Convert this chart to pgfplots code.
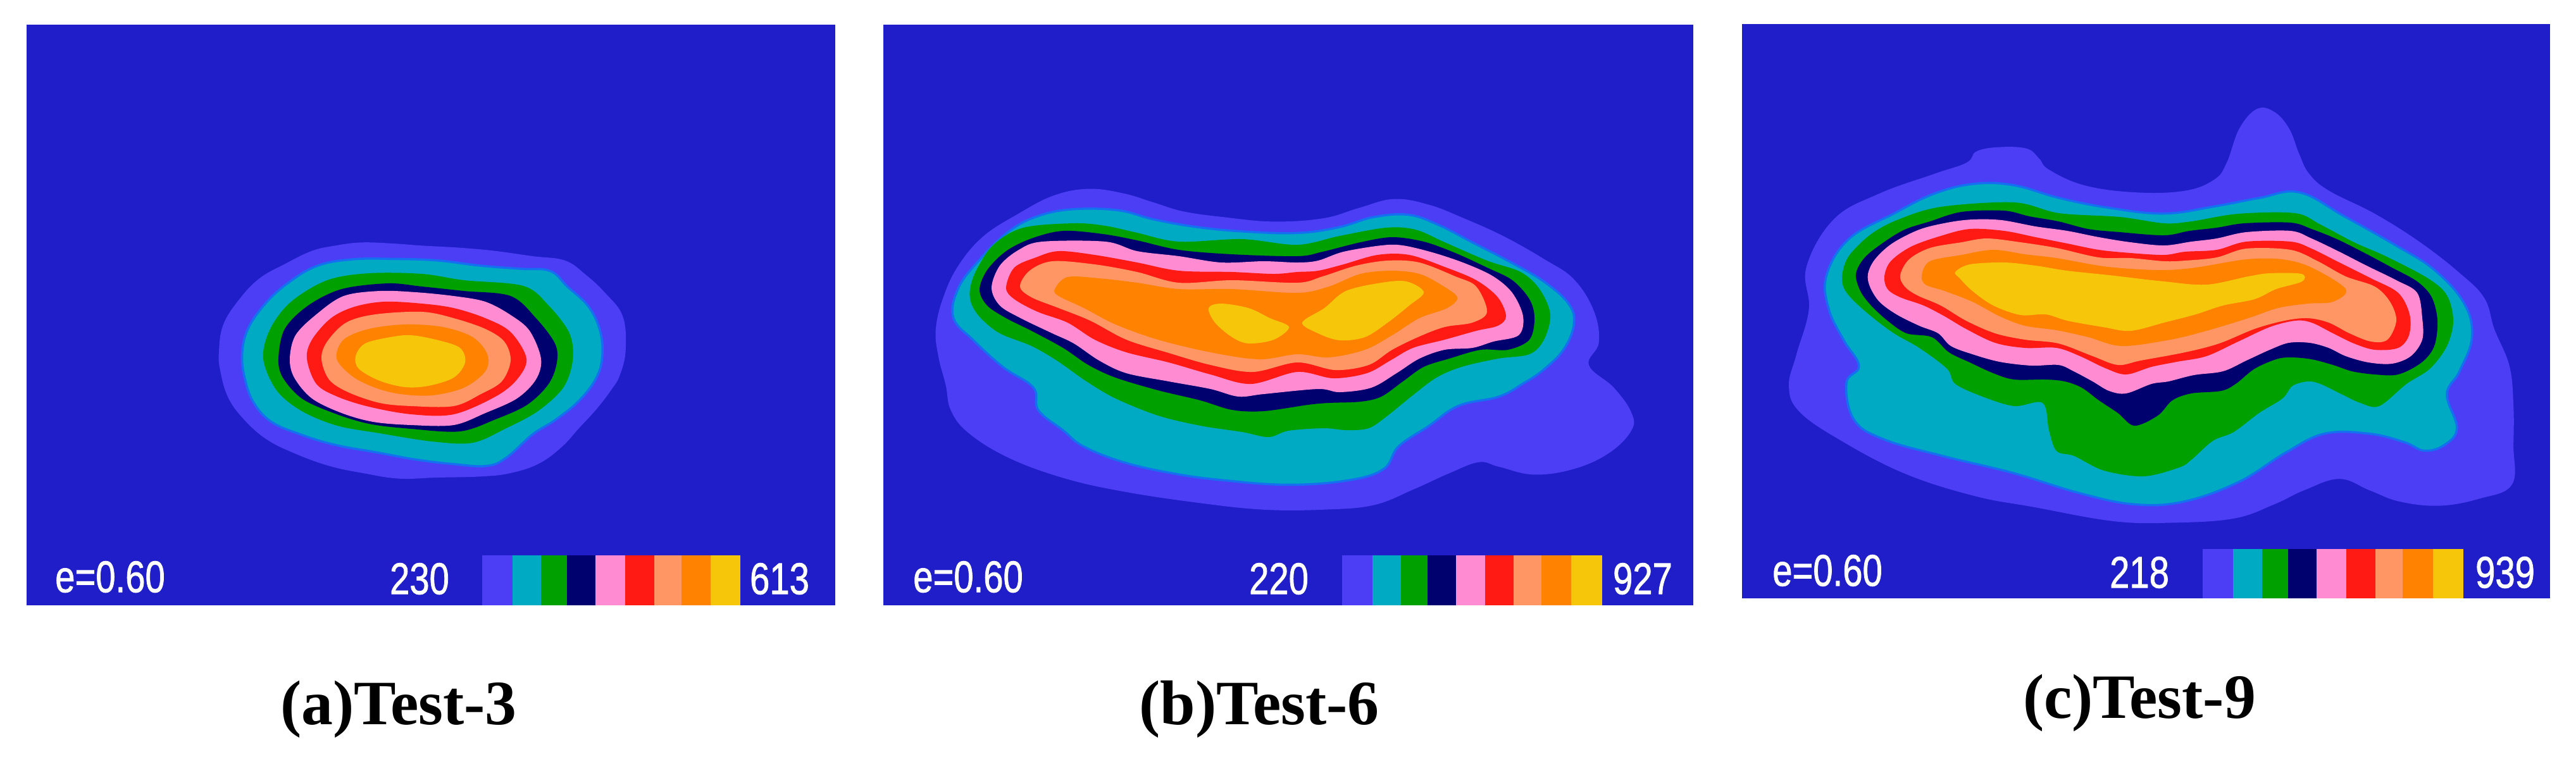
\documentclass[border=0pt]{standalone}
\usepackage{fontspec}
\setmainfont{Liberation Sans}
\newfontfamily\capfont{Liberation Serif}
\newfontfamily\labfont{Liberation Sans}[FakeBold=1.3]
\usepackage{pgfplots}
\pgfplotsset{compat=1.18}
\definecolor{Bg}{HTML}{201EC8}
\definecolor{L1}{HTML}{4B3EF5}
\definecolor{L2}{HTML}{00AAC3}
\definecolor{L3}{HTML}{00A000}
\definecolor{L4}{HTML}{00006E}
\definecolor{L5}{HTML}{FF8CD2}
\definecolor{L6}{HTML}{FF1A14}
\definecolor{L7}{HTML}{FF9664}
\definecolor{L8}{HTML}{FF8200}
\definecolor{L9}{HTML}{F5C60A}
\definecolor{Rim}{HTML}{1470F0}
\pgfplotsset{
  sheet/.style={
    scale only axis,width=20.355cm,height=5.995cm,
    hide axis,y dir=reverse,clip=false,
  },
  lv1/.style={fill=L1,draw=none,no marks,smooth cycle,tension=0.65},
  lv2/.style={fill=L2,draw=Rim,line width=0.5pt,no marks,smooth cycle,tension=0.65},
  lv3/.style={fill=L3,draw=none,no marks,smooth cycle,tension=0.55},
  lv4/.style={fill=L4,draw=none,no marks,smooth cycle,tension=0.55},
  lv5/.style={fill=L5,draw=none,no marks,smooth cycle,tension=0.55},
  lv6/.style={fill=L6,draw=none,no marks,smooth cycle,tension=0.55},
  lv7/.style={fill=L7,draw=none,no marks,smooth cycle,tension=0.55},
  lv8/.style={fill=L8,draw=none,no marks,smooth cycle,tension=0.55},
  lv9/.style={fill=L9,draw=none,no marks,smooth cycle,tension=0.55},
  box/.style={fill=#1,draw=none,no marks},
}
\tikzset{
  scalelab/.style={text=white,xscale=0.8,inner sep=0pt,font=\labfont\fontsize{10}{12}\selectfont},
  captext/.style={anchor=base,inner sep=0pt,font=\capfont\bfseries\fontsize{14.2}{16}\selectfont},
}
\begin{document}
\begin{tikzpicture}
% page, in pixels of the 4071x1199 figure
\begin{axis}[sheet,xmin=0,xmax=4071,ymin=0,ymax=1199]
\addplot[box=white] coordinates {(0,0) (4071,0) (4071,1199) (0,1199)} -- cycle;
\addplot[box=Bg] coordinates {(42,39) (1320,39) (1320,957) (42,957)} -- cycle;
\addplot[box=Bg] coordinates {(1396,39) (2676,39) (2676,957) (1396,957)} -- cycle;
\addplot[box=Bg] coordinates {(2753,38) (4030,38) (4030,946) (2753,946)} -- cycle;
% colour scale (a)
\addplot[box=L1] coordinates {(762,878) (810,878) (810,957) (762,957)} -- cycle;
\addplot[box=L2] coordinates {(810,878) (855,878) (855,957) (810,957)} -- cycle;
\addplot[box=L3] coordinates {(855,878) (896,878) (896,957) (855,957)} -- cycle;
\addplot[box=L4] coordinates {(896,878) (941,878) (941,957) (896,957)} -- cycle;
\addplot[box=L5] coordinates {(941,878) (988,878) (988,957) (941,957)} -- cycle;
\addplot[box=L6] coordinates {(988,878) (1034,878) (1034,957) (988,957)} -- cycle;
\addplot[box=L7] coordinates {(1034,878) (1077,878) (1077,957) (1034,957)} -- cycle;
\addplot[box=L8] coordinates {(1077,878) (1123,878) (1123,957) (1077,957)} -- cycle;
\addplot[box=L9] coordinates {(1123,878) (1170,878) (1170,957) (1123,957)} -- cycle;
% colour scale (b)
\addplot[box=L1] coordinates {(2121,878) (2169,878) (2169,957) (2121,957)} -- cycle;
\addplot[box=L2] coordinates {(2169,878) (2214,878) (2214,957) (2169,957)} -- cycle;
\addplot[box=L3] coordinates {(2214,878) (2256,878) (2256,957) (2214,957)} -- cycle;
\addplot[box=L4] coordinates {(2256,878) (2301,878) (2301,957) (2256,957)} -- cycle;
\addplot[box=L5] coordinates {(2301,878) (2347,878) (2347,957) (2301,957)} -- cycle;
\addplot[box=L6] coordinates {(2347,878) (2392,878) (2392,957) (2347,957)} -- cycle;
\addplot[box=L7] coordinates {(2392,878) (2436,878) (2436,957) (2392,957)} -- cycle;
\addplot[box=L8] coordinates {(2436,878) (2483,878) (2483,957) (2436,957)} -- cycle;
\addplot[box=L9] coordinates {(2483,878) (2532,878) (2532,957) (2483,957)} -- cycle;
% colour scale (c)
\addplot[box=L1] coordinates {(3481,868) (3529,868) (3529,946) (3481,946)} -- cycle;
\addplot[box=L2] coordinates {(3529,868) (3575,868) (3575,946) (3529,946)} -- cycle;
\addplot[box=L3] coordinates {(3575,868) (3616,868) (3616,946) (3575,946)} -- cycle;
\addplot[box=L4] coordinates {(3616,868) (3661,868) (3661,946) (3616,946)} -- cycle;
\addplot[box=L5] coordinates {(3661,868) (3708,868) (3708,946) (3661,946)} -- cycle;
\addplot[box=L6] coordinates {(3708,868) (3754,868) (3754,946) (3708,946)} -- cycle;
\addplot[box=L7] coordinates {(3754,868) (3797,868) (3797,946) (3754,946)} -- cycle;
\addplot[box=L8] coordinates {(3797,868) (3845,868) (3845,946) (3797,946)} -- cycle;
\addplot[box=L9] coordinates {(3845,868) (3893,868) (3893,946) (3845,946)} -- cycle;
\node[scalelab] at (axis cs:174,912) {e=0.60};
\node[scalelab] at (axis cs:663,915) {230};
\node[scalelab] at (axis cs:1232,915) {613};
\node[scalelab] at (axis cs:1530,912) {e=0.60};
\node[scalelab] at (axis cs:2021,915) {220};
\node[scalelab] at (axis cs:2596,915) {927};
\node[scalelab] at (axis cs:2888,902) {e=0.60};
\node[scalelab] at (axis cs:3381,905) {218};
\node[scalelab] at (axis cs:3959,905) {939};
\node[captext] at (axis cs:630,1145) {(a)Test-3};
\node[captext] at (axis cs:1990,1145) {(b)Test-6};
\node[captext] at (axis cs:3381,1135) {(c)Test-9};
\end{axis}
% outer bands, read from crops: (a) Test-3
\begin{axis}[sheet,xmin=-653.33,xmax=8212.6,ymin=-1020,ymax=2577]
\addplot[lv1] coordinates {(590,130) (700,135) (800,145) (930,155) (1050,170) (1180,195) (1290,215) (1360,280) (1430,370) (1490,480) (1500,640) (1480,760) (1450,830) (1400,920) (1340,1010) (1280,1100) (1200,1180) (1100,1225) (1000,1240) (850,1245) (720,1250) (600,1225) (480,1190) (360,1130) (260,1060) (180,960) (130,860) (105,740) (100,650) (115,520) (170,400) (240,300) (330,230) (420,170) (500,145)};
\addplot[lv2] coordinates {(560,210) (700,208) (850,215) (1000,240) (1140,255) (1240,265) (1300,340) (1370,430) (1410,540) (1420,660) (1400,770) (1340,880) (1260,970) (1180,1040) (1090,1150) (1020,1190) (900,1180) (780,1160) (640,1125) (500,1090) (380,1040) (280,980) (220,890) (190,780) (180,660) (200,540) (260,420) (340,320) (440,240)};
\end{axis}
% (b) Test-6
\begin{axis}[sheet,xmin=-1745,xmax=3402.8,ymin=-756,ymax=2601.2]
\addplot[lv1] coordinates {(430,80) (500,100) (560,140) (620,180) (700,205) (800,225) (900,210) (970,165) (1040,125) (1110,150) (1180,210) (1260,290) (1340,390) (1400,480) (1440,620) (1450,760) (1430,860) (1480,960) (1515,1070) (1515,1150) (1470,1250) (1400,1320) (1320,1345) (1250,1310) (1210,1290) (1150,1340) (1080,1410) (1000,1480) (900,1500) (780,1500) (650,1470) (500,1420) (380,1360) (270,1270) (190,1160) (155,1060) (145,950) (130,820) (125,700) (140,560) (170,420) (220,290) (290,190) (360,110)};
\addplot[lv2] coordinates {(400,170) (490,175) (560,215) (650,250) (750,270) (850,275) (930,250) (1000,205) (1070,195) (1130,240) (1200,320) (1270,400) (1340,490) (1390,590) (1400,680) (1380,790) (1340,880) (1300,940) (1250,1000) (1170,1040) (1110,1130) (1050,1220) (1020,1320) (950,1370) (830,1390) (700,1370) (600,1340) (500,1290) (420,1220) (380,1150) (330,1060) (320,960) (260,870) (200,750) (160,650) (170,520) (210,400) (270,270) (330,200)};
\end{axis}
% (c) Test-9
\begin{axis}[sheet,xmin=-3464.8,xmax=1683.1,ymin=-336,ymax=2349.8]
\addplot[lv1] coordinates {(1045,50) (1080,60) (1110,120) (1130,210) (1150,280) (1190,340) (1280,420) (1370,520) (1450,630) (1500,720) (1520,830) (1550,960) (1558,1100) (1558,1240) (1555,1380) (1490,1430) (1410,1455) (1330,1440) (1270,1400) (1210,1360) (1140,1400) (1080,1450) (1000,1500) (880,1515) (760,1510) (600,1460) (480,1420) (340,1340) (210,1220) (130,1120) (110,1030) (125,920) (150,760) (145,610) (200,440) (290,350) (400,280) (465,240) (485,200) (530,185) (585,190) (610,225) (630,265) (700,320) (800,345) (900,340) (960,300) (985,240) (1010,120)};
\addplot[lv2] coordinates {(480,315) (560,320) (650,365) (750,400) (860,420) (960,395) (1050,365) (1130,345) (1220,430) (1320,530) (1400,620) (1460,740) (1475,860) (1450,980) (1425,1060) (1445,1180) (1420,1240) (1380,1260) (1340,1230) (1270,1200) (1180,1200) (1100,1270) (1010,1370) (900,1440) (800,1450) (690,1410) (560,1340) (420,1280) (300,1220) (240,1150) (225,1020) (250,960) (220,870) (190,760) (185,640) (230,510) (320,420) (400,350)};
\end{axis}
% inner bands, in pixels of the figure
\begin{axis}[sheet,xmin=0,xmax=4071,ymin=0,ymax=1199]
% (a)
\addplot[lv3] coordinates {(416,567) (427,520) (460,477) (517,443) (583,432) (667,433) (733,443) (827,452) (867,483) (900,527) (905,570) (890,613) (850,650) (800,677) (747,700) (683,698) (600,685) (533,673) (477,650) (437,617)};
\addplot[lv4] coordinates {(440,567) (450,520) (487,483) (540,457) (613,448) (667,453) (733,460) (807,468) (847,503) (877,543) (880,573) (867,607) (833,640) (783,663) (727,682) (650,678) (583,670) (527,653) (477,630) (447,597)};
\addplot[lv5] coordinates {(458,567) (467,530) (500,497) (543,468) (600,460) (657,462) (717,468) (767,477) (807,498) (837,523) (855,567) (847,600) (817,630) (767,653) (717,672) (650,672) (590,667) (540,653) (493,630) (465,597)};
\addplot[lv6] coordinates {(485,567) (493,537) (523,503) (560,485) (607,477) (667,480) (717,487) (767,503) (807,525) (832,567) (817,600) (783,627) (717,655) (650,655) (583,643) (533,627) (500,607)};
\addplot[lv7] coordinates {(508,567) (517,540) (547,510) (593,497) (667,493) (717,503) (767,520) (797,540) (807,570) (793,603) (760,623) (717,642) (650,642) (600,637) (550,620) (520,600)};
\addplot[lv8] coordinates {(532,567) (543,537) (583,520) (640,513) (700,517) (747,533) (770,560) (767,587) (733,613) (683,625) (633,623) (593,613) (557,595)};
\addplot[lv9] coordinates {(562,563) (577,543) (617,533) (650,530) (693,538) (727,550) (735,573) (717,597) (677,610) (640,612) (600,602) (567,583)};
% (b)
\addplot[lv3] coordinates {(1533,457) (1543,427) (1570,387) (1617,360) (1697,353) (1747,357) (1797,368) (1863,382) (1963,378) (2050,387) (2117,373) (2190,360) (2237,363) (2283,383) (2350,412) (2403,430) (2433,457) (2450,497) (2440,537) (2417,560) (2367,567) (2310,580) (2270,597) (2230,627) (2193,657) (2163,677) (2127,680) (2092,677) (2036,681) (2005,691) (1963,683) (1897,673) (1830,657) (1763,630) (1717,603) (1670,570) (1630,547) (1580,527) (1550,503) (1535,480)};
\addplot[lv4] coordinates {(1548,458) (1560,427) (1590,397) (1630,377) (1680,365) (1743,370) (1797,380) (1863,395) (1947,402) (2050,405) (2090,398) (2150,383) (2200,375) (2250,382) (2300,400) (2350,423) (2390,443) (2417,473) (2425,503) (2417,537) (2383,553) (2340,553) (2290,567) (2250,580) (2217,603) (2183,627) (2150,635) (2100,637) (2067,640) (1997,650) (1947,648) (1897,633) (1830,617) (1763,597) (1720,577) (1680,550) (1630,523) (1590,503) (1560,483)};
\addplot[lv5] coordinates {(1567,455) (1580,420) (1610,395) (1647,382) (1747,382) (1797,397) (1863,405) (1930,415) (1997,413) (2050,415) (2083,412) (2123,398) (2183,388) (2217,388) (2267,400) (2317,417) (2360,437) (2390,463) (2407,500) (2400,530) (2360,540) (2327,550) (2283,553) (2243,567) (2207,590) (2167,613) (2117,620) (2083,615) (1997,623) (1957,627) (1913,615) (1847,603) (1780,590) (1737,570) (1697,543) (1663,527) (1613,503) (1580,483)};
\addplot[lv6] coordinates {(1590,455) (1603,423) (1637,407) (1673,397) (1730,403) (1797,415) (1863,428) (1947,430) (2013,433) (2050,430) (2083,428) (2123,418) (2177,403) (2227,403) (2283,422) (2333,443) (2367,470) (2380,500) (2367,515) (2333,523) (2283,537) (2233,550) (2197,570) (2160,590) (2107,598) (2050,588) (1977,607) (1913,592) (1847,573) (1780,557) (1730,537) (1687,510) (1640,493) (1603,473)};
\addplot[lv7] coordinates {(1612,453) (1627,428) (1663,413) (1730,418) (1797,430) (1863,447) (1947,443) (2050,447) (2090,437) (2143,420) (2193,412) (2243,415) (2300,437) (2333,453) (2350,493) (2327,510) (2283,517) (2243,532) (2200,553) (2163,577) (2110,585) (2050,573) (1980,588) (1913,577) (1847,558) (1780,537) (1723,507) (1673,487) (1630,470)};
\addplot[lv8] coordinates {(1667,457) (1687,438) (1737,440) (1797,447) (1863,457) (1947,457) (2050,463) (2100,453) (2150,433) (2200,428) (2243,433) (2277,450) (2303,470) (2287,487) (2243,503) (2200,530) (2157,553) (2100,565) (2050,560) (1990,568) (1913,557) (1830,537) (1763,513) (1713,487) (1673,468)};
\addplot[lv9] coordinates {(1910,487) (1930,480) (1973,487) (2007,503) (2037,517) (2013,537) (1973,543) (1947,533) (1920,510)};
\addplot[lv9] coordinates {(2058,510) (2093,487) (2127,460) (2183,447) (2223,445) (2250,462) (2227,483) (2193,510) (2157,533) (2117,538) (2083,527)};
% (c)
\addplot[lv3] coordinates {(2912,430) (2923,403) (2957,370) (3000,347) (3067,327) (3183,320) (3254,337) (3350,343) (3420,353) (3463,350) (3537,338) (3627,337) (3667,355) (3720,383) (3770,405) (3837,440) (3867,467) (3877,507) (3867,547) (3840,583) (3803,607) (3760,642) (3730,637) (3700,623) (3667,607) (3647,603) (3623,610) (3607,630) (3570,653) (3530,683) (3497,697) (3463,727) (3444,739) (3388,753) (3325,744) (3278,721) (3250,713) (3238,680) (3228,637) (3183,642) (3133,627) (3090,607) (3077,583) (3033,550) (2993,527) (2957,500) (2927,473) (2913,453)};
\addplot[lv4] coordinates {(2933,433) (2947,407) (2977,383) (3010,363) (3050,350) (3100,335) (3167,333) (3207,342) (3253,350) (3300,362) (3350,367) (3420,372) (3460,365) (3503,360) (3547,353) (3620,352) (3653,362) (3693,378) (3737,400) (3780,423) (3820,445) (3843,470) (3852,507) (3847,547) (3827,573) (3790,592) (3753,592) (3717,587) (3687,577) (3653,568) (3620,565) (3597,568) (3563,583) (3533,607) (3510,618) (3463,622) (3433,633) (3410,657) (3373,673) (3347,653) (3317,633) (3290,613) (3263,603) (3233,600) (3183,600) (3150,590) (3113,573) (3080,557) (3053,533) (3013,527) (2983,507) (2957,483) (2940,460)};
\addplot[lv5] coordinates {(2952,433) (2963,410) (2990,385) (3033,363) (3077,352) (3117,347) (3163,348) (3217,358) (3267,365) (3317,375) (3367,383) (3420,388) (3463,382) (3503,377) (3550,367) (3620,365) (3653,377) (3697,398) (3740,420) (3787,443) (3820,463) (3828,503) (3828,537) (3810,563) (3780,575) (3743,573) (3707,563) (3680,550) (3650,542) (3617,542) (3587,553) (3550,570) (3513,587) (3467,593) (3427,603) (3400,607) (3360,622) (3333,618) (3307,603) (3277,587) (3253,577) (3210,578) (3160,572) (3117,560) (3083,547) (3063,527) (3033,515) (2997,497) (2970,477) (2955,453)};
\addplot[lv6] coordinates {(2978,437) (2988,413) (3020,390) (3067,373) (3113,362) (3167,365) (3217,375) (3267,385) (3317,395) (3367,400) (3420,403) (3453,398) (3503,395) (3550,382) (3620,382) (3653,393) (3697,415) (3747,440) (3790,463) (3808,497) (3807,530) (3790,550) (3753,553) (3720,543) (3687,527) (3653,510) (3627,507) (3587,517) (3537,540) (3487,563) (3440,572) (3400,580) (3360,592) (3327,582) (3287,563) (3250,550) (3200,550) (3153,542) (3107,520) (3073,500) (3040,483) (3003,470) (2983,457)};
\addplot[lv7] coordinates {(3003,435) (3017,410) (3050,392) (3100,383) (3140,377) (3193,383) (3250,392) (3317,407) (3367,408) (3420,413) (3453,412) (3503,407) (3550,393) (3620,395) (3663,413) (3707,437) (3753,453) (3777,477) (3787,507) (3773,537) (3747,540) (3713,527) (3680,510) (3647,503) (3610,507) (3563,520) (3507,543) (3453,557) (3383,570) (3347,577) (3307,563) (3253,543) (3200,537) (3153,527) (3107,507) (3067,483) (3030,467) (3010,453)};
\addplot[lv8] coordinates {(3037,435) (3050,413) (3100,403) (3150,395) (3200,402) (3250,408) (3317,420) (3367,425) (3420,427) (3470,423) (3550,410) (3607,410) (3653,423) (3707,457) (3687,477) (3647,480) (3600,487) (3553,503) (3487,523) (3430,537) (3353,547) (3300,533) (3250,522) (3200,515) (3160,500) (3117,477) (3073,460) (3043,450)};
\addplot[lv9] coordinates {(3090,430) (3113,418) (3167,415) (3217,420) (3267,428) (3333,435) (3420,445) (3487,450) (3553,437) (3587,432) (3637,433) (3638,445) (3597,457) (3563,473) (3513,483) (3470,497) (3420,510) (3367,523) (3323,517) (3267,507) (3233,497) (3193,498) (3150,483) (3117,460) (3097,440)};
\end{axis}
\end{tikzpicture}
\end{document}
